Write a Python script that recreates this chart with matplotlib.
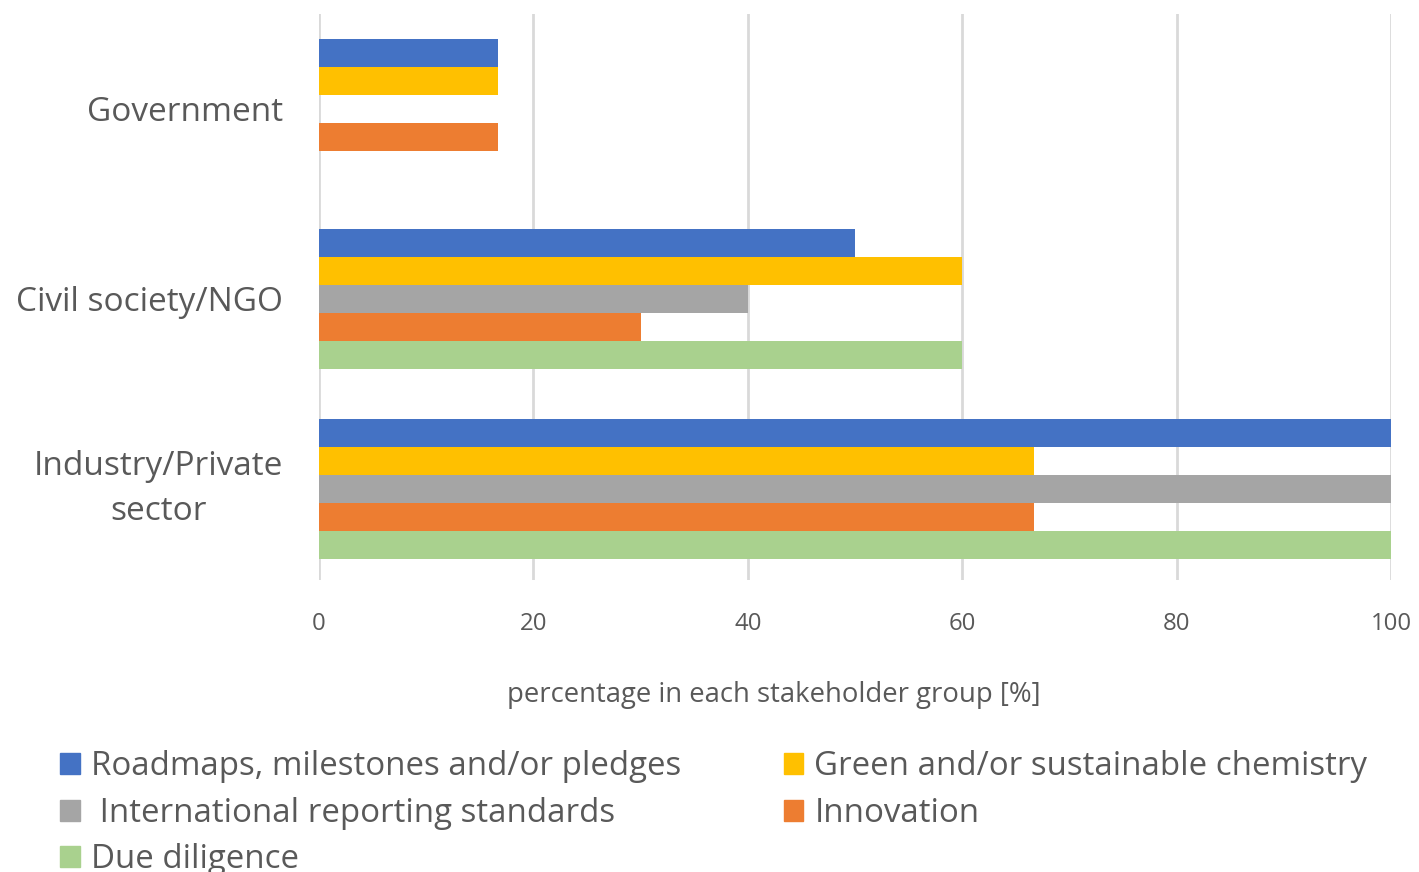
import matplotlib.pyplot as plt
from matplotlib.patches import Patch

plt.rcParams['font.family'] = ['Open Sans', 'DejaVu Sans']

categories = ['Government', 'Civil society/NGO', 'Industry/Private\nsector']
series = ['Roadmaps, milestones and/or pledges', 'Green and/or sustainable chemistry',
          ' International reporting standards', 'Innovation', 'Due diligence']
colors = ['#4472C4', '#FFC000', '#A5A5A5', '#ED7D31', '#A9D18E']

roadmaps = [16.7, 50, 100]
green_chem = [16.7, 60, 66.7]
intl_reporting = [0, 40, 100]
innovation = [16.7, 30, 66.7]
due_diligence = [0, 60, 100]
values = [roadmaps, green_chem, intl_reporting, innovation, due_diligence]

txt = '#595959'
fig = plt.figure(figsize=(14.19, 8.72), dpi=100)
ax = fig.add_axes([319/1419, 1-580/872, (1391-319)/1419, (580-14)/872])

h = 0.147
for j, (vals, c) in enumerate(zip(values, colors)):
    ys = [i + (j - 2) * h for i in range(len(categories))]
    ax.barh(ys, vals, height=h, color=c, label=series[j], zorder=3)

ax.set_ylim(2.478, -0.497)
ax.set_xlim(0, 100)
ax.set_xticks(range(0, 101, 20))
ax.set_yticks(range(len(categories)))
ax.set_yticklabels(categories)
for lab in ax.get_yticklabels():
    lab.set_multialignment('center')
    if '\n' in lab.get_text():
        lab.set_linespacing(1.45)
        lab.set_verticalalignment('center')
ax.tick_params(axis='y', length=0, pad=26, labelsize=24, labelcolor=txt)
ax.tick_params(axis='x', length=0, pad=23, labelsize=17.3, labelcolor=txt)
for s in ax.spines.values():
    s.set_visible(False)
ax.grid(axis='x', color='#D9D9D9', linewidth=2, zorder=0)
ax.set_xlabel('percentage in each stakeholder group [%]', fontsize=19.8, color=txt)
ax.xaxis.set_label_coords(0.424, -0.178)

order = [0, 2, 4, 1, 3]
handles = [Patch(color=colors[k]) for k in order]
labels = [series[k] for k in order]
fig.legend(handles, labels, ncol=2, loc='upper left', bbox_to_anchor=(0.033, 1-737/872),
           frameon=False, fontsize=23.8, labelcolor=txt, handlelength=0.6, handleheight=0.6,
           handletextpad=0.33, columnspacing=3.1, labelspacing=0.41, borderaxespad=0)

fig.savefig('out.png', dpi=100)
